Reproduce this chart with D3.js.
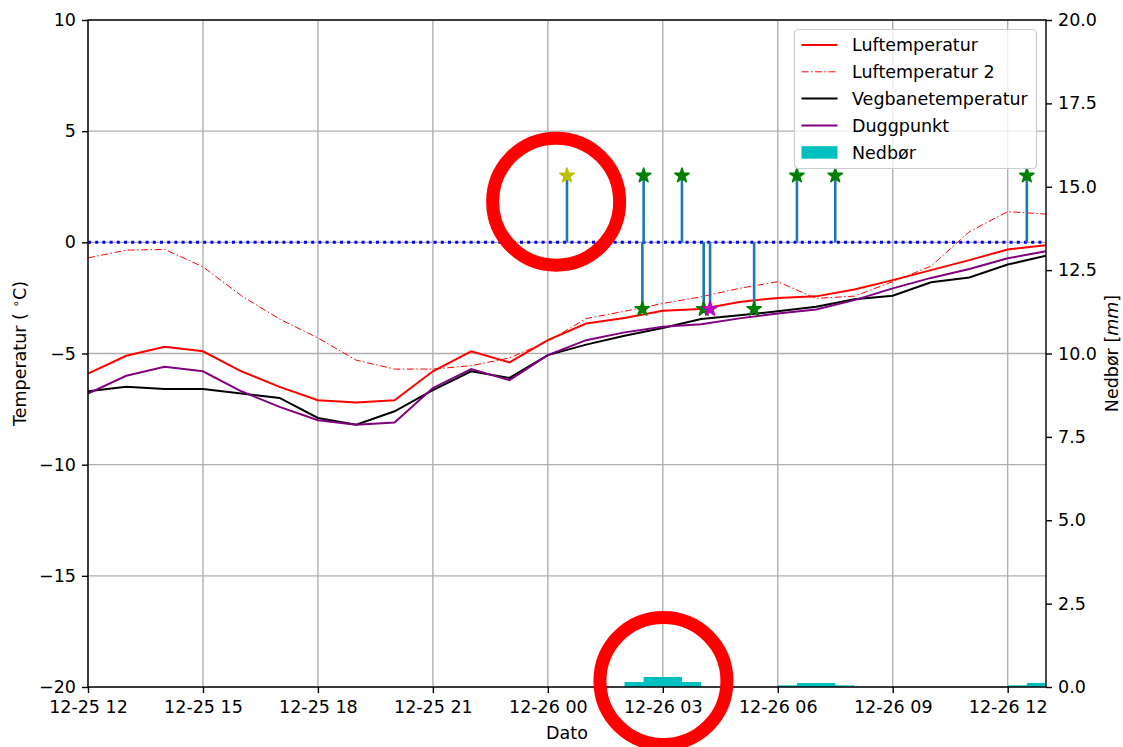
<!DOCTYPE html>
<html>
<head>
<meta charset="utf-8">
<script src="https://cdn.jsdelivr.net/npm/d3@7"></script>
<style>
  body { margin: 0; background: #fff; }
  svg { display: block; font-family: "DejaVu Sans", sans-serif; }
</style>
</head>
<body>
<svg id="chart" width="1123" height="747"></svg>
<script>
// Hourly observations, 12-25 12:00 to 12-26 13:00
const hours = [
  "2022-12-25 12:00","2022-12-25 13:00","2022-12-25 14:00","2022-12-25 15:00","2022-12-25 16:00",
  "2022-12-25 17:00","2022-12-25 18:00","2022-12-25 19:00","2022-12-25 20:00","2022-12-25 21:00",
  "2022-12-25 22:00","2022-12-25 23:00","2022-12-26 00:00","2022-12-26 01:00","2022-12-26 02:00",
  "2022-12-26 03:00","2022-12-26 04:00","2022-12-26 05:00","2022-12-26 06:00","2022-12-26 07:00",
  "2022-12-26 08:00","2022-12-26 09:00","2022-12-26 10:00","2022-12-26 11:00","2022-12-26 12:00",
  "2022-12-26 13:00"
];
const luftemperatur = [-5.9, -5.1, -4.7, -4.9, -5.8, -6.5, -7.1, -7.2, -7.1, -5.8, -4.9, -5.4, -4.4,
  -3.65, -3.4, -3.08, -3.0, -2.68, -2.5, -2.43, -2.12, -1.7, -1.25, -0.8, -0.32, -0.13];
const luftemperatur2 = [-0.7, -0.35, -0.32, -1.1, -2.4, -3.45, -4.3, -5.3, -5.7, -5.7, -5.55, -5.2, -4.45,
  -3.43, -3.1, -2.75, -2.45, -2.07, -1.77, -2.52, -2.42, -1.77, -1.07, 0.48, 1.38, 1.27];
const vegbanetemperatur = [-6.7, -6.5, -6.6, -6.6, -6.8, -7.0, -7.9, -8.2, -7.6, -6.65, -5.8, -6.1, -5.07,
  -4.6, -4.2, -3.85, -3.45, -3.28, -3.1, -2.9, -2.56, -2.4, -1.8, -1.58, -1.0, -0.6];
const duggpunkt = [-6.8, -6.0, -5.6, -5.8, -6.7, -7.4, -8.0, -8.2, -8.1, -6.55, -5.7, -6.2, -5.07,
  -4.4, -4.05, -3.8, -3.68, -3.42, -3.2, -3.02, -2.6, -2.07, -1.6, -1.2, -0.72, -0.4];

// Precipitation per hour (bar centre, mm)
const nedborTid = ["2022-12-26 02:30","2022-12-26 03:00","2022-12-26 03:30",
  "2022-12-26 06:30","2022-12-26 07:00","2022-12-26 07:30",
  "2022-12-26 12:30","2022-12-26 13:00"];
const nedbor = [0.15, 0.3, 0.15, 0.05, 0.12, 0.05, 0.05, 0.12];

// Events shown as stems from zero with star heads
const hendelseTid = ["2022-12-26 00:30","2022-12-26 02:30","2022-12-26 03:30","2022-12-26 06:30",
  "2022-12-26 07:30","2022-12-26 12:30",
  "2022-12-26 02:28","2022-12-26 04:04","2022-12-26 04:14","2022-12-26 05:23"];
const hendelseVerdi = [3, 3, 3, 3, 3, 3, -3, -3, -3, -3];
const hendelseFarge = ["#bfbf00", "#008000", "#008000", "#008000", "#008000", "#008000",
  "#008000", "#008000", "#bf00bf", "#008000"];

// Highlight rings (time, temperature)
const ringTid = ["2022-12-26 00:13", "2022-12-26 03:01"];
const ringTemp = [1.83, -19.73];

// Axis ticks
const tempTicks = [-20, -15, -10, -5, 0, 5, 10];
const nedborTicks = [0, 2.5, 5, 7.5, 10, 12.5, 15, 17.5, 20];

const parse = d3.timeParse("%Y-%m-%d %H:%M");
const svg = d3.select("#chart");
const M = { left: 88, right: 1046, top: 20, bottom: 687 };

const x = d3.scaleTime()
  .domain([parse("2022-12-25 12:00"), parse("2022-12-26 13:00")])
  .range([M.left, M.right]);
const y = d3.scaleLinear().domain([-20, 10]).range([M.bottom, M.top]);
const y2 = d3.scaleLinear().domain([0, 20]).range([M.bottom, M.top]);

const xTicks = d3.timeHour.every(3).range(parse("2022-12-25 12:00"), parse("2022-12-26 13:01"));

// clip for data
svg.append("defs").append("clipPath").attr("id", "plotclip")
  .append("rect").attr("x", M.left).attr("y", M.top)
  .attr("width", M.right - M.left).attr("height", M.bottom - M.top);

// grid
const grid = svg.append("g");
grid.selectAll(".gx").data(xTicks).join("line")
  .attr("x1", d => x(d)).attr("x2", d => x(d))
  .attr("y1", M.top).attr("y2", M.bottom)
  .attr("stroke", "#b0b0b0").attr("stroke-width", 1.4);
grid.selectAll(".gy").data(tempTicks).join("line")
  .attr("x1", M.left).attr("x2", M.right)
  .attr("y1", d => y(d)).attr("y2", d => y(d))
  .attr("stroke", "#b0b0b0").attr("stroke-width", 1.4);

const plot = svg.append("g").attr("clip-path", "url(#plotclip)");
const times = hours.map(parse);
const lineGen = vals => d3.line().x((d, i) => x(times[i])).y(d => y(d))(vals);

plot.append("path").attr("d", lineGen(luftemperatur2)).attr("fill", "none")
  .attr("stroke", "red").attr("stroke-width", 1).attr("stroke-dasharray", "7,2.5,1.5,2.5");
plot.append("path").attr("d", lineGen(luftemperatur)).attr("fill", "none")
  .attr("stroke", "red").attr("stroke-width", 2);
plot.append("path").attr("d", lineGen(vegbanetemperatur)).attr("fill", "none")
  .attr("stroke", "black").attr("stroke-width", 2);
plot.append("path").attr("d", lineGen(duggpunkt)).attr("fill", "none")
  .attr("stroke", "purple").attr("stroke-width", 2);

// zero line
plot.append("line").attr("x1", M.left).attr("x2", M.right)
  .attr("y1", y(0)).attr("y2", y(0))
  .attr("stroke", "blue").attr("stroke-width", 3).attr("stroke-dasharray", "3,4.2");

// event stems and stars
const ev = hendelseTid.map((t, i) => ({ t: parse(t), v: hendelseVerdi[i], c: hendelseFarge[i] }));
plot.selectAll(".stem").data(ev).join("line")
  .attr("x1", d => x(d.t)).attr("x2", d => x(d.t))
  .attr("y1", y(0)).attr("y2", d => y(d.v))
  .attr("stroke", "#1f77b4").attr("stroke-width", 2.6);

function starPath(r) {
  const ri = r * 0.381966, pts = [];
  for (let k = 0; k < 10; k++) {
    const a = -Math.PI / 2 + k * Math.PI / 5;
    const rr = k % 2 === 0 ? r : ri;
    pts.push([rr * Math.cos(a), rr * Math.sin(a)]);
  }
  return "M" + pts.map(p => p.join(",")).join("L") + "Z";
}
svg.selectAll(".star").data(ev).join("path")
  .attr("d", starPath(7.5))
  .attr("transform", d => `translate(${x(d.t)},${y(d.v)})`)
  .attr("fill", d => d.c).attr("stroke", d => d.c).attr("stroke-width", 1.6)
  .attr("stroke-linejoin", "round");

// precipitation bars (1 hour wide)
const nb = nedborTid.map((t, i) => ({ t: parse(t), v: nedbor[i] }));
plot.selectAll(".bar").data(nb).join("rect")
  .attr("x", d => x(d3.timeMinute.offset(d.t, -30)))
  .attr("width", d => x(d3.timeMinute.offset(d.t, 30)) - x(d3.timeMinute.offset(d.t, -30)))
  .attr("y", d => y2(d.v))
  .attr("height", d => y2(0) - y2(d.v))
  .attr("fill", "#00bfbf");

// axes
const fs = 17.5;
const axB = svg.append("g").attr("transform", `translate(0,${M.bottom})`)
  .call(d3.axisBottom(x).tickValues(xTicks).tickFormat(d3.timeFormat("%m-%d %H")).tickSize(6).tickPadding(5));
const axL = svg.append("g").attr("transform", `translate(${M.left},0)`)
  .call(d3.axisLeft(y).tickValues(tempTicks).tickFormat(d3.format("d")).tickSize(6).tickPadding(6));
const axR = svg.append("g").attr("transform", `translate(${M.right},0)`)
  .call(d3.axisRight(y2).tickValues(nedborTicks).tickFormat(d3.format(".1f")).tickSize(6).tickPadding(6));
[axB, axL, axR].forEach(g => {
  g.select(".domain").remove();
  g.selectAll(".tick line").attr("stroke", "black").attr("stroke-width", 1.4);
  g.selectAll(".tick text").attr("font-size", fs).attr("fill", "black")
    .attr("font-family", "DejaVu Sans, sans-serif");
});
axB.selectAll(".tick text").attr("dy", "0.85em");

// frame
svg.append("rect").attr("x", M.left).attr("y", M.top)
  .attr("width", M.right - M.left).attr("height", M.bottom - M.top)
  .attr("fill", "none").attr("stroke", "black").attr("stroke-width", 1.4);

// axis labels
svg.append("text").attr("x", (M.left + M.right) / 2).attr("y", 739)
  .attr("text-anchor", "middle").attr("font-size", fs).text("Dato");
const tl = svg.append("text").attr("transform", `translate(26,${(M.top + M.bottom) / 2}) rotate(-90)`)
  .attr("text-anchor", "middle").attr("font-size", fs);
tl.append("tspan").text("Temperatur ( ");
tl.append("tspan").attr("font-size", 12).attr("dy", -6).text("∘");
tl.append("tspan").attr("dy", 6).text("C)");
const tr = svg.append("text").attr("transform", `translate(1118,${(M.top + M.bottom) / 2}) rotate(-90)`)
  .attr("text-anchor", "middle").attr("font-size", fs);
tr.append("tspan").text("Nedbør [");
tr.append("tspan").attr("font-style", "italic").text("mm");
tr.append("tspan").text("]");

// highlight rings
const rings = ringTid.map((t, i) => ({ t: parse(t), v: ringTemp[i] }));
svg.selectAll(".ring").data(rings).join("circle")
  .attr("cx", d => x(d.t)).attr("cy", d => y(d.v)).attr("r", 63.5)
  .attr("fill", "none").attr("stroke", "red").attr("stroke-width", 13);

// legend
const leg = svg.append("g").attr("transform", "translate(794.5,29.5)");
leg.append("rect").attr("width", 242).attr("height", 139).attr("rx", 4)
  .attr("fill", "white").attr("fill-opacity", 0.8).attr("stroke", "#cccccc").attr("stroke-width", 1.2);
const legItems = [
  { label: "Luftemperatur", type: "line", color: "red", w: 2, dash: null },
  { label: "Luftemperatur 2", type: "line", color: "red", w: 1, dash: "7,2.5,1.5,2.5" },
  { label: "Vegbanetemperatur", type: "line", color: "black", w: 2, dash: null },
  { label: "Duggpunkt", type: "line", color: "purple", w: 2, dash: null },
  { label: "Nedbør", type: "rect", color: "#00bfbf" }
];
legItems.forEach((it, i) => {
  const cy = 15.5 + i * 26.8;
  if (it.type === "line") {
    leg.append("line").attr("x1", 7).attr("x2", 43).attr("y1", cy).attr("y2", cy)
      .attr("stroke", it.color).attr("stroke-width", it.w)
      .attr("stroke-dasharray", it.dash);
  } else {
    leg.append("rect").attr("x", 7).attr("y", cy - 6).attr("width", 36).attr("height", 12.5)
      .attr("fill", it.color);
  }
  leg.append("text").attr("x", 57.5).attr("y", cy).attr("dy", "0.36em")
    .attr("font-size", fs).text(it.label);
});
</script>
</body>
</html>
